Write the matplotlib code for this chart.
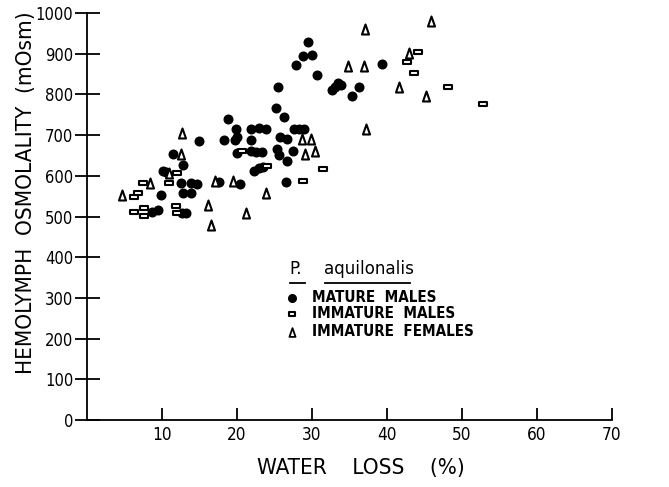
import matplotlib
matplotlib.use("Agg")
import matplotlib.pyplot as plt
from matplotlib.path import Path
from matplotlib import font_manager as fm

# ---- data ----
mature_x = [14.9, 18.8, 18.2, 19.8, 19.7, 20.0, 21.9, 22.9, 23.9, 21.9, 25.5, 25.2, 26.2, 27.8,
            28.8, 30.0, 29.5, 30.7, 27.6, 28.3, 28.9, 25.7, 26.6, 11.4, 20.0, 21.9, 22.5, 23.3,
            25.3, 25.6, 27.5, 26.6, 32.6, 33.0, 33.5, 33.9, 36.2, 35.3, 39.3, 12.8, 10.1, 10.5,
            12.5, 13.8, 14.7, 9.8, 12.8, 13.8, 17.6, 20.4, 22.3, 22.9, 23.5, 26.5, 8.7, 9.5,
            12.7, 13.2]
mature_y = [686, 740, 689, 715, 689, 695, 715, 717, 715, 689, 818, 767, 744, 873,
            895, 896, 929, 848, 715, 715, 715, 695, 690, 653, 656, 660, 658, 658,
            666, 652, 662, 637, 811, 818, 828, 822, 818, 795, 875, 627, 613, 609,
            582, 582, 581, 553, 557, 558, 584, 581, 613, 619, 622, 585, 510, 515,
            509, 509]

imm_male_x = [20.6, 44.1, 42.6, 43.6, 48.1, 52.8, 31.4, 28.8, 12.0, 10.9, 7.4, 6.2, 6.8,
              24.0, 6.3, 7.6, 7.6, 11.8, 12.0]
imm_male_y = [662, 904, 879, 853, 818, 777, 617, 588, 607, 582, 582, 548, 558,
              623, 512, 521, 502, 526, 508]

imm_fem_x = [12.7, 12.5, 28.6, 29.8, 29.0, 30.4, 37.0, 45.9, 34.8, 36.9, 42.9, 41.6, 45.2,
             37.2, 10.9, 8.4, 4.7, 17.0, 19.5, 23.9, 16.1, 21.2, 16.5]
imm_fem_y = [706, 653, 690, 690, 654, 660, 961, 980, 871, 871, 902, 818, 795,
             715, 606, 583, 552, 586, 586, 558, 529, 508, 479]

x_ticks = [10, 20, 30, 40, 50, 60, 70]
y_ticks = [0, 100, 200, 300, 400, 500, 600, 700, 800, 900, 1000]
y_ticklabels = ['0', '100', '200', '300', '400', '500', '600', '700', '800', '900', '1000']

# ---- font choice: prefer a narrow face ----
names = {f.name for f in fm.fontManager.ttflist}
stretch = 'normal'
if 'Liberation Sans Narrow' in names:
    fam = ['Liberation Sans Narrow', 'DejaVu Sans']
    k = 1.0
elif 'DejaVu Sans Condensed' in names:
    fam = ['DejaVu Sans Condensed', 'DejaVu Sans']
    k = 0.95
elif any(f.name == 'DejaVu Sans' and f.stretch == 'condensed' for f in fm.fontManager.ttflist):
    fam = ['DejaVu Sans']
    stretch = 'condensed'
    k = 0.95
else:
    fam = ['DejaVu Sans']
    k = 0.84
plt.rcParams['font.family'] = fam
plt.rcParams['font.stretch'] = stretch

# ---- figure ----
W, H = 669, 487
fig = plt.figure(figsize=(W / 100, H / 100), dpi=100)
ax = fig.add_axes([87 / W, 1 - 420 / H, (612 - 87) / W, (420 - 13) / H])

rect_marker = Path([(-1, -0.65), (1, -0.65), (1, 0.65), (-1, 0.65), (-1, -0.65)],
                   [Path.MOVETO, Path.LINETO, Path.LINETO, Path.LINETO, Path.CLOSEPOLY])
tri_marker = Path([(-0.7, -1), (0.7, -1), (0, 1), (-0.7, -1)],
                  [Path.MOVETO, Path.LINETO, Path.LINETO, Path.CLOSEPOLY])

ax.plot(mature_x, mature_y, 'o', ms=6.2, mfc='black', mec='black', ls='none')
ax.plot(imm_male_x, imm_male_y, marker=rect_marker, ms=5.2, mfc='white', mec='black',
        mew=1.5, ls='none')
ax.plot(imm_fem_x, imm_fem_y, marker=tri_marker, ms=7.2, mfc='white', mec='black',
        mew=1.5, ls='none')

ax.set_xlim(0, 70)
ax.set_ylim(0, 1000)
for s in ['top', 'right']:
    ax.spines[s].set_visible(False)
for s in ['left', 'bottom']:
    ax.spines[s].set_linewidth(1.3)

ax.set_xticks(x_ticks)
ax.set_xticklabels([str(t) for t in x_ticks], fontsize=13 * k)
ax.set_yticks(y_ticks)
ax.set_yticklabels(y_ticklabels, fontsize=12.5 * k)
ax.tick_params(axis='x', direction='in', length=9, width=1.3, pad=4)
ax.tick_params(axis='y', direction='inout', length=18, width=1.3, pad=1)

fig.text(26 / W, 1 - 193 / H, 'HEMOLYMPH  OSMOLALITY  (mOsm)', rotation=90,
         ha='center', va='center', fontsize=17 * k)
fig.text(361 / W, 1 - 468 / H, 'WATER    LOSS    (%)', ha='center', va='center',
         fontsize=17 * k)


def fx(px):
    return px / W


def fy(py):
    return 1 - py / H


fig.text(fx(289), fy(269), 'P.', fontsize=14 * k, ha='left', va='center')
fig.text(fx(324), fy(269), 'aquilonalis', fontsize=14 * k, ha='left', va='center')
fig.lines.append(plt.Line2D([fx(290), fx(305)], [fy(283), fy(283)], color='black', lw=1.3,
                            transform=fig.transFigure))
fig.lines.append(plt.Line2D([fx(325), fx(410)], [fy(283), fy(283)], color='black', lw=1.3,
                            transform=fig.transFigure))

labels = ['MATURE  MALES', 'IMMATURE  MALES', 'IMMATURE  FEMALES']
rows = [298, 314, 332]
fig.lines.append(plt.Line2D([fx(292)], [fy(rows[0])], marker='o', ms=5.5, mfc='black',
                            mec='black', ls='none', transform=fig.transFigure))
fig.lines.append(plt.Line2D([fx(292)], [fy(rows[1])], marker=rect_marker, ms=5, mfc='white',
                            mec='black', mew=1.5, ls='none', transform=fig.transFigure))
fig.lines.append(plt.Line2D([fx(292)], [fy(rows[2])], marker=tri_marker, ms=6.3, mfc='white',
                            mec='black', mew=1.3, ls='none', transform=fig.transFigure))
for lab, r in zip(labels, rows):
    fig.text(fx(312), fy(r), lab, fontsize=11.5 * k, fontweight='bold', ha='left', va='center')

fig.savefig('out.png', dpi=100)
